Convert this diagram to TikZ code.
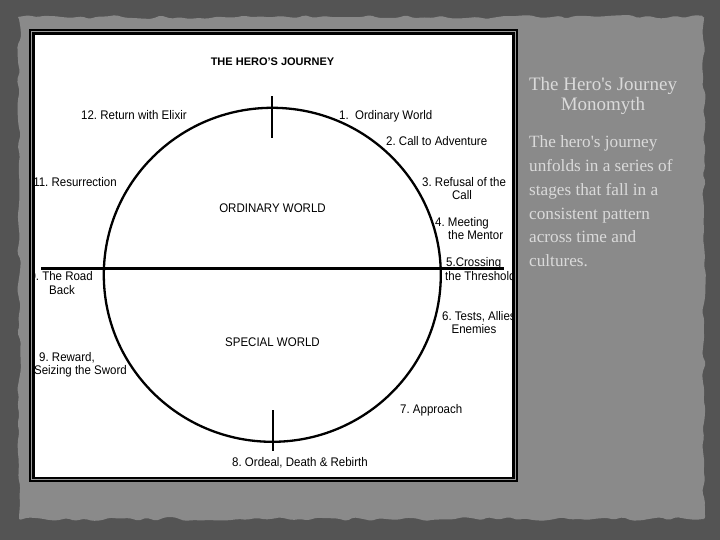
\documentclass[tikz,border=0pt]{standalone}
\usepackage{fontspec}
\setmainfont{Liberation Sans}
\newfontfamily\labelfont[FakeStretch=0.92]{Liberation Sans}
\newfontfamily\bodyserif{Liberation Serif}
\usetikzlibrary{decorations.pathmorphing}
\definecolor{bgdark}{HTML}{545454}
\definecolor{paper}{HTML}{8A8A8A}
\definecolor{textlight}{HTML}{DADADA}
\definecolor{framegray}{HTML}{9A9A9A}
\frenchspacing
\begin{document}
\begin{tikzpicture}[x=1pt,y=-1pt,
  lbl/.style={font=\labelfont\fontsize{12.5}{14}\selectfont, inner sep=0pt},
  region/.style={font=\labelfont\fontsize{12.5}{14}\selectfont, inner sep=0pt},
  heading/.style={font=\bfseries\fontsize{11}{13}\selectfont, inner sep=0pt},
  bodytext/.style={font=\bodyserif\fontsize{17.2}{20}\selectfont, text=textlight, inner sep=0pt, anchor=base west},
  titletext/.style={font=\bodyserif\fontsize{19}{22}\selectfont, text=textlight, inner sep=0pt, anchor=base},
  heavy/.style={line width=2.3pt},
  tick/.style={line width=2.6pt}]
\useasboundingbox (0,0) rectangle (720,540);
% background
\fill[bgdark] (0,0) rectangle (720,540);
\fill[paper, rounded corners=2pt, decorate, decoration={random steps, segment length=9pt, amplitude=2pt}] (19,17) rectangle (704,519);
% frame
\fill[black] (29,29) rectangle (518,482);
\draw[framegray, line width=0.8pt] (31.8,31.8) rectangle (515.2,479.2);
\fill[white] (35,35) rectangle (512,476.5);
\begin{scope}
\clip (35.5,35) rectangle (512,476.5);
% wheel
\draw[heavy] (272.3,274.8) ellipse [x radius=168.5pt, y radius=167pt];
\coordinate (hl) at (41,268.5);
\coordinate (hr) at (504,268.5);
\draw[heavy] (hl) -- (hr);
\coordinate (tt1) at (272,96.4);
\coordinate (tt2) at (272,137.7);
\draw[tick] (tt1) -- (tt2);
\coordinate (bt1) at (273,410);
\coordinate (bt2) at (273,451);
\draw[tick] (bt1) -- (bt2);
% texts
\node[heading, anchor=base] (title) at (272.5,65.5) {THE HERO'S JOURNEY};
\node[region, anchor=base] (ordw) at (272.5,212.5) {ORDINARY WORLD};
\node[region, anchor=base] (specw) at (272.5,346.5) {SPECIAL WORLD};
\node[lbl, anchor=base west] (s12) at (81,120) {12. Return with Elixir};
\node[lbl, anchor=base west] (s1) at (339,119.5) {1.\ \ Ordinary World};
\node[lbl, anchor=base west] (s2) at (386,145.5) {2. Call to Adventure};
\node[lbl, anchor=base west] (s3a) at (422,186.5) {3. Refusal of the};
\node[lbl, anchor=base] (s3b) at (462,199.5) {Call};
\node[lbl, anchor=base west] (s4a) at (435,226) {4. Meeting};
\node[lbl, anchor=base west] (s4b) at (448,239.5) {the Mentor};
\node[lbl, anchor=base west] (s5a) at (446,266.5) {5.Crossing};
\node[lbl, anchor=base west] (s5b) at (445,280) {the Threshold};
\node[lbl, anchor=base west] (s6a) at (442,320) {6. Tests, Allies \&};
\node[lbl, anchor=base] (s6b) at (474,333) {Enemies};
\node[lbl, anchor=base west] (s7) at (400,413.5) {7. Approach};
\node[lbl, anchor=base west] (s8) at (232,466.5) {8. Ordeal, Death \& Rebirth};
\node[lbl, anchor=base west] (s9a) at (39,361) {9. Reward,};
\node[lbl, anchor=base east] (s9b) at (127,374.5) {Seizing the Sword};
\node[lbl, anchor=base east] (s10a) at (93,280.5) {10. The Road};
\node[lbl, anchor=base] (s10b) at (62,294) {Back};
\node[lbl, anchor=base east] (s11) at (117,186.5) {11. Resurrection};
\end{scope}
% right panel
\node[titletext] (t1) at (603,90.7) {The Hero's Journey};
\node[titletext] (t2) at (603,110.7) {Monomyth};
\node[bodytext] (b1) at (529,148) {The hero's journey};
\node[bodytext] (b2) at (529,171.7) {unfolds in a series of};
\node[bodytext] (b3) at (529,195.5) {stages that fall in a};
\node[bodytext] (b4) at (529,219) {consistent pattern};
\node[bodytext] (b5) at (529,243) {across time and};
\node[bodytext] (b6) at (529,266.7) {cultures.};
\end{tikzpicture}
\end{document}
